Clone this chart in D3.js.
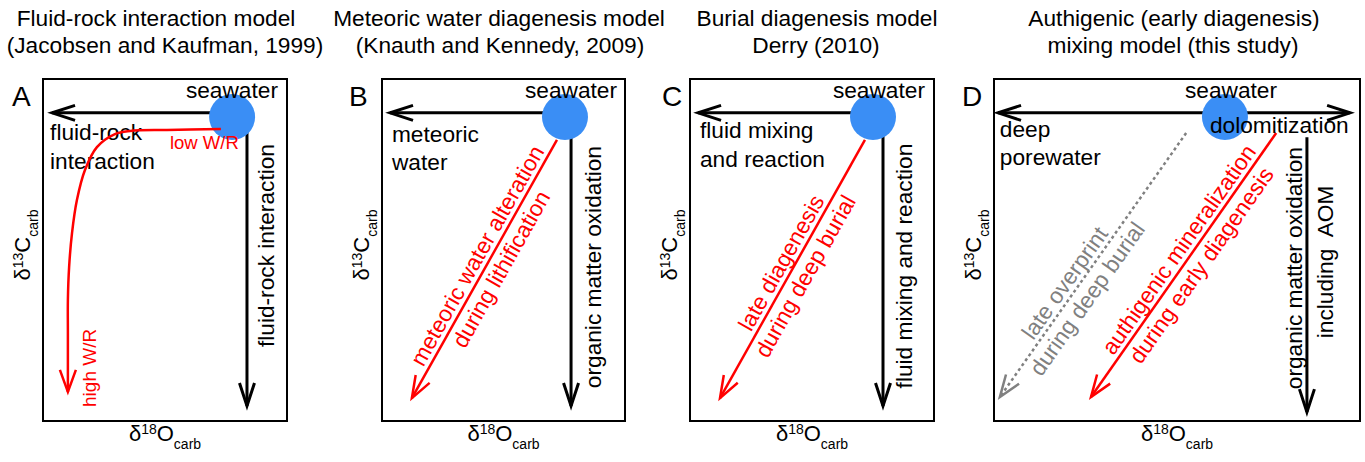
<!DOCTYPE html>
<html><head><meta charset="utf-8">
<script src="https://cdn.jsdelivr.net/npm/d3@7"></script>
<style>
body{margin:0;background:#fff}
svg{display:block}
text{font-family:"Liberation Sans",Arial,Helvetica,sans-serif}
</style>
</head><body>
<svg id="chart" width="1365" height="462"></svg>
<script>
// ---------------- data ----------------
const panelIds   = ["A", "B", "C", "D"];
const titleLine1 = ["Fluid-rock interaction model", "Meteoric water diagenesis model", "Burial diagenesis model", "Authigenic (early diagenesis)"];
const titleLine2 = ["(Jacobsen and Kaufman, 1999)", "(Knauth and Kennedy, 2009)", "Derry (2010)", "mixing model (this study)"];
const xAxisLabel = ["δ", "18", "O", "carb"];
const yAxisLabel = ["δ", "13", "C", "carb"];

// seawater end-member position in each panel (δ18O, δ13C, relative 0–100)
const seawaterPos = [[77.5, 88.9], [75.3, 88.9], [75.0, 88.9], [63.1, 88.9]];

// black process arrows: panel, from (x,y), to (x,y)
const blackArrows = [
  ["A", 77.5, 90.1, 3.7, 90.1], ["A", 83.6, 88.6, 83.6, 4.4],
  ["B", 75.3, 90.1, 3.3, 90.1], ["B", 77.8, 88.6, 77.8, 4.4],
  ["C", 75.0, 90.1, 3.3, 90.1], ["C", 79.1, 88.6, 79.1, 4.4],
  ["D", 63.1, 90.1, 1.1, 90.1], ["D", 63.1, 90.1, 97.3, 90.1], ["D", 85.5, 83.0, 85.5, 2.6]
];

// diagonal alteration arrows: panel, from, to, colour, dashed, label lines, label shift along arrow
const diagArrows = [
  ["B", 72.0, 82.2, 12.3, 6.7, "red",  false, ["meteoric water alteration", "during lithification"], 8],
  ["C", 71.7, 82.2, 12.3, 6.7, "red",  false, ["late diagenesis", "during deep burial"], 0],
  ["D", 77.1, 84.2, 26.5, 7.0, "red",  false, ["authigenic mineralization", "during early diagenesis"], 10],
  ["D", 52.5, 84.2, 1.6, 7.0, "gray", true,  ["late overprint", "during deep burial"], -31]
];

// fluid-rock interaction trajectory (panel A), low W/R -> high W/R
const curveA = [[72.9, 85.4], [50.8, 85.1], [35.7, 84.8], [29.5, 83.9], [22.1, 80.1], [17.2, 73.4],
                [13.9, 64.6], [11.9, 55.0], [10.7, 45.0], [10.2, 35.4], [10.2, 25.7], [10.2, 8.5]];

// text labels: panel, x, y, text, anchor, rotate, colour, size
const labels = [
  ["A", 96.3, 94.4, "seawater", "end", 0, "#000", 22.7],
  ["A", 2.9, 82.2, "fluid-rock", "start", 0, "#000", 22.7],
  ["A", 2.9, 73.7, "interaction", "start", 0, "#000", 22.7],
  ["A", 94.7, 51.3, "fluid-rock interaction", "middle", -90, "#000", 22.7],
  ["B", 96.7, 94.4, "seawater", "end", 0, "#000", 22.7],
  ["B", 4.1, 81.6, "meteoric", "start", 0, "#000", 22.7],
  ["B", 4.1, 73.4, "water", "start", 0, "#000", 22.7],
  ["B", 90.1, 45.0, "organic matter oxidation", "middle", -90, "#000", 22.7],
  ["C", 96.3, 94.4, "seawater", "end", 0, "#000", 22.7],
  ["C", 4.1, 82.75, "fluid mixing", "start", 0, "#000", 22.7],
  ["C", 4.1, 74.3, "and reaction", "start", 0, "#000", 22.7],
  ["C", 91.0, 45.3, "fluid mixing and reaction", "middle", -90, "#000", 22.7],
  ["D", 64.75, 94.4, "seawater", "middle", 0, "#000", 22.7],
  ["D", 1.6, 83.0, "deep", "start", 0, "#000", 22.7],
  ["D", 1.6, 74.85, "porewater", "start", 0, "#000", 22.7],
  ["D", 84.15, 44.7, "organic matter oxidation", "middle", -90, "#000", 22.7],
  ["D", 92.6, 46.5, "including  AOM", "middle", -90, "#000", 22.7],
  ["A", 52.0, 79.5, "low W/R", "start", 0, "red", 18.5],
  ["A", 21.7, 4.1, "high W/R", "start", -90, "red", 19]
];
const frontLabels = [["D", 59.0, 84.2, "dolomitization", "start", 0, "#000", 22.7]];

// ---------------- layout ----------------
const boxX0 = [43, 382, 690, 994], boxX1 = [287, 625, 934, 1360];
const boxTop = 79, boxBottom = 421;
const titleX1 = [156, 499, 817, 1174], titleX2 = [165, 500, 816, 1173];
const letterX = [12, 349, 662, 962];
const RED = "#ff0000", GRAY = "#808080", BLUE = "#3a8ef5";
const FS = 22.7;

const svg = d3.select("#chart");
const xs = {}, ys = {};
panelIds.forEach((p, i) => {
  xs[p] = d3.scaleLinear().domain([0, 100]).range([boxX0[i], boxX1[i]]);
  ys[p] = d3.scaleLinear().domain([0, 100]).range([boxBottom, boxTop]);
});

function arrowHead(g, tip, from, color, w, len = 22, half = 8) {
  const dx = tip[0] - from[0], dy = tip[1] - from[1];
  const L = Math.hypot(dx, dy), ux = dx / L, uy = dy / L, nx = -uy, ny = ux;
  g.append("path")
    .attr("d", `M${tip[0] - len * ux + half * nx},${tip[1] - len * uy + half * ny}L${tip[0]},${tip[1]}L${tip[0] - len * ux - half * nx},${tip[1] - len * uy - half * ny}`)
    .attr("fill", "none").attr("stroke", color).attr("stroke-width", w).attr("stroke-linejoin", "miter");
}

const layerBox = svg.append("g"), layerBlack = svg.append("g"), layerDot = svg.append("g"),
      layerText = svg.append("g"), layerColor = svg.append("g"), layerFront = svg.append("g");

panelIds.forEach((p, i) => {
  const x = xs[p], y = ys[p];
  layerBox.append("rect").attr("x", x(0)).attr("y", y(100)).attr("width", x(100) - x(0)).attr("height", y(0) - y(100))
    .attr("fill", "none").attr("stroke", "#000").attr("stroke-width", 2);
  // titles
  svg.append("text").attr("x", titleX1[i]).attr("y", 26).attr("text-anchor", "middle").attr("font-size", FS).text(titleLine1[i]);
  svg.append("text").attr("x", titleX2[i]).attr("y", 53).attr("text-anchor", "middle").attr("font-size", FS).text(titleLine2[i]);
  // panel letter
  svg.append("text").attr("x", letterX[i]).attr("y", 106).attr("font-size", 28).text(p);
  // x axis label
  const xl = svg.append("text").attr("x", (x(0) + x(100)) / 2).attr("y", 441).attr("text-anchor", "middle").attr("font-size", 22);
  xl.append("tspan").text(xAxisLabel[0]);
  xl.append("tspan").attr("font-size", 14).attr("dy", -7).text(xAxisLabel[1]);
  xl.append("tspan").attr("dy", 7).text(xAxisLabel[2]);
  xl.append("tspan").attr("font-size", 14).attr("dy", 8).text(xAxisLabel[3]);
  // y axis label
  const yl = svg.append("text").attr("transform", `translate(${x(0) - 13},${(y(0) + y(100)) / 2 - 5}) rotate(-90)`)
    .attr("text-anchor", "middle").attr("font-size", 22);
  yl.append("tspan").text(yAxisLabel[0]);
  yl.append("tspan").attr("font-size", 14).attr("dy", -7).text(yAxisLabel[1]);
  yl.append("tspan").attr("dy", 7).text(yAxisLabel[2]);
  yl.append("tspan").attr("font-size", 14).attr("dy", 8).text(yAxisLabel[3]);
  // seawater dot
  layerDot.append("circle").attr("cx", x(seawaterPos[i][0])).attr("cy", y(seawaterPos[i][1])).attr("r", 23).attr("fill", BLUE);
});

// black arrows
blackArrows.forEach(([p, x1, y1, x2, y2]) => {
  const x = xs[p], y = ys[p];
  const a = [x(x1), y(y1)], b = [x(x2), y(y2)];
  layerBlack.append("line").attr("x1", a[0]).attr("y1", a[1]).attr("x2", b[0]).attr("y2", b[1])
    .attr("stroke", "#000").attr("stroke-width", 3);
  arrowHead(layerBlack, b, a, "#000", 3, 23, 7.5);
});

// diagonal arrows with labels
diagArrows.forEach(([p, x1, y1, x2, y2, col, dashed, lines, along]) => {
  const x = xs[p], y = ys[p];
  const a = [x(x1), y(y1)], b = [x(x2), y(y2)];
  const color = col === "red" ? RED : GRAY;
  layerColor.append("line").attr("x1", a[0]).attr("y1", a[1]).attr("x2", b[0]).attr("y2", b[1])
    .attr("stroke", color).attr("stroke-width", 2.5).attr("stroke-dasharray", dashed ? "3,3" : null);
  arrowHead(layerColor, b, a, color, 2.5, 22, 8);
  const ang = Math.atan2(a[1] - b[1], a[0] - b[0]) * 180 / Math.PI;
  const g = layerColor.append("g").attr("transform", `translate(${(a[0] + b[0]) / 2},${(a[1] + b[1]) / 2}) rotate(${ang})`);
  g.append("text").attr("x", along).attr("y", -5).attr("text-anchor", "middle").attr("font-size", FS).attr("fill", color).text(lines[0]);
  g.append("text").attr("x", along).attr("y", 22.5).attr("text-anchor", "middle").attr("font-size", FS).attr("fill", color).text(lines[1]);
});

// curved trajectory in panel A
{
  const x = xs.A, y = ys.A;
  const pts = curveA.map(d => [x(d[0]), y(d[1])]);
  layerColor.append("path").attr("d", d3.line().curve(d3.curveCatmullRom)(pts))
    .attr("fill", "none").attr("stroke", RED).attr("stroke-width", 2.5);
  arrowHead(layerColor, pts[pts.length - 1], pts[pts.length - 2], RED, 2.5, 22, 8);
}

function drawLabels(layer, arr) {
  arr.forEach(([p, lx, ly, t, anchor, rot, col, size]) => {
    const x = xs[p], y = ys[p];
    layer.append("text").attr("transform", `translate(${x(lx)},${y(ly)}) rotate(${rot})`)
      .attr("text-anchor", anchor).attr("font-size", size).attr("fill", col === "red" ? RED : col)
      .style("white-space", "pre").text(t);
  });
}
drawLabels(layerText, labels);
drawLabels(layerFront, frontLabels);
</script>
</body></html>
